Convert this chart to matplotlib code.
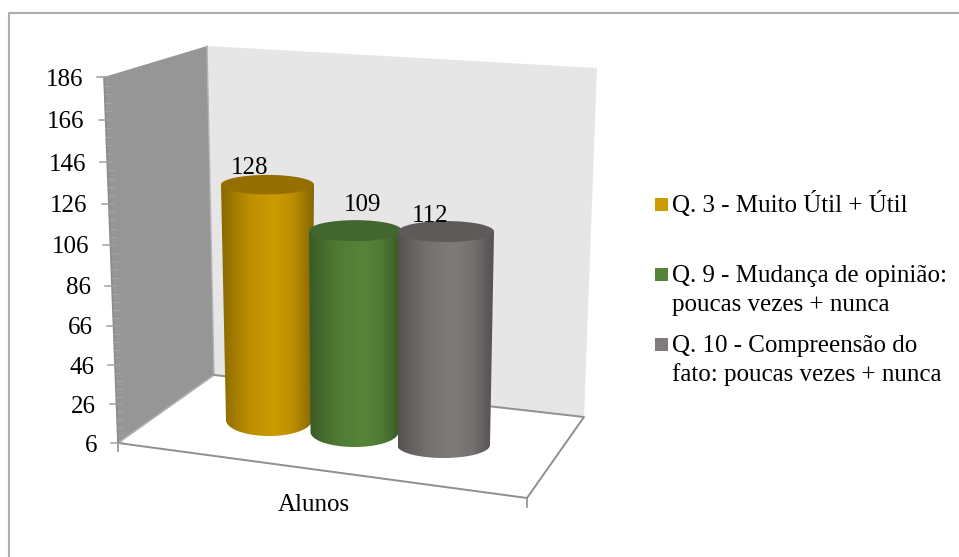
import matplotlib
matplotlib.use('Agg')
from matplotlib import pyplot as plt
from matplotlib.colors import LinearSegmentedColormap, to_rgb
from matplotlib.patches import Ellipse, PathPatch, Polygon, Rectangle
from matplotlib.path import Path
import numpy as np

plt.rcParams['font.family'] = ['Liberation Serif', 'DejaVu Serif']

# chart values
categoria = 'Alunos'
valores = [128, 109, 112]
ticks = [6, 26, 46, 66, 86, 106, 126, 146, 166, 186]
legendas = ['Q. 3 - Muito Útil + Útil',
            'Q. 9 - Mudança de opinião:\npoucas vezes + nunca',
            'Q. 10 - Compreensão do\nfato: poucas vezes + nunca']
cores = ['#CC9B00', '#568539', '#807A7A']
cores_topo = ['#957000', '#426630', '#5F5A5A']

# cylinder geometry in figure pixels
base_x = [269, 354.5, 443.5]
topo_x = [267.5, 355.5, 446]
base_y = [420, 432, 445]
raio_base = [43, 44, 46.5]
raio_topo = [46.5, 46.5, 48]
fundo_h = [16, 15, 13]
topo_h = [19.5, 21, 21]
escala = [354, 361, 371.5]
rotulo_x = [250, 363, 430]
rotulo_y = [174, 211, 222]
legenda_y = [198, 268, 338]

COR_EIXO = '#8F8F8F'
FONTE = 18


def altura(v):
    # perspective foreshortening along the vertical axis
    t = (v - ticks[0]) / (ticks[-1] - ticks[0])
    k = 0.057
    return t * (1 - k) / (1 - k * t)


def eixo_xy(v):
    f = altura(v)
    return 118 - 14 * f, 443 - 366 * f


def cilindro(ax, i, z):
    h = altura(valores[i]) * escala[i]
    y_topo = base_y[i] - h
    esq = topo_x[i] - raio_topo[i]
    dir = topo_x[i] + raio_topo[i]

    ang = np.linspace(np.pi, 0, 60)
    fundo_x = base_x[i] + raio_base[i] * np.cos(ang)
    fundo_y = base_y[i] + fundo_h[i] * np.sin(ang)
    xs = np.r_[esq, fundo_x, dir, esq]
    ys = np.r_[y_topo, fundo_y, y_topo, y_topo]
    corpo = Path(np.c_[xs, ys])

    c = np.array(to_rgb(cores[i]))
    cmap = LinearSegmentedColormap.from_list('c', [
        (0, c * 0.68), (0.3, c * 0.92), (0.58, c), (0.78, c * 0.92), (1, c * 0.66)])
    img = ax.imshow(np.linspace(0, 1, 96).reshape(1, -1), cmap=cmap, aspect='auto',
                    extent=(esq, dir, base_y[i] + fundo_h[i] + 1, y_topo - 1), zorder=z,
                    interpolation='bilinear')
    img.set_clip_path(PathPatch(corpo, transform=ax.transData))

    ax.add_patch(Ellipse((topo_x[i], y_topo), 2 * raio_topo[i], topo_h[i],
                         fc=cores_topo[i], ec='none', zorder=z + 0.1))


fig = plt.figure(figsize=(9.59, 5.57), dpi=100)
ax = fig.add_axes([0, 0, 1, 1])
ax.axis('off')

# outer frame, open on the right and at the bottom
ax.plot([9, 9, 959], [557, 13, 13], color='#AEAEAE', lw=1.5, zorder=1)

# walls and floor
ax.add_patch(Polygon([(207, 46), (597, 68), (584, 417), (214, 375)], fc='#E6E6E6', ec='none', zorder=2))
ax.add_patch(Polygon([(118, 443), (104, 77), (207, 46), (214, 375)], fc='#969696', ec='none', zorder=2))
ax.plot([207, 214], [46, 375], color='#B4B4B4', lw=1, zorder=3)
ax.plot([118, 214], [443, 375], color='#B0B0B0', lw=1.2, zorder=3)
ax.plot([214, 584, 527, 118], [375, 417, 498, 443], color=COR_EIXO, lw=1.4, zorder=3)
ax.plot([104, 118], [77, 443], color='#8A8A8A', lw=1.2, zorder=3)
ax.plot([118, 118], [443, 451], color=COR_EIXO, lw=1.2, zorder=3)
ax.plot([527, 527], [498, 507], color=COR_EIXO, lw=1.2, zorder=3)

# vertical axis ticks
for i, t in enumerate(ticks):
    x, y = eixo_xy(t)
    ax.plot([x - 7, x + 5], [y, y], color='#A0A0A0', lw=1.1, zorder=3)
    ax.text(x - 21, y, str(t), ha='right', va='center_baseline', fontsize=FONTE, color='black', zorder=6)
    if i < len(ticks) - 1:
        for m in range(1, 5):
            xm, ym = eixo_xy(t + (ticks[i + 1] - t) * m / 5)
            ax.plot([xm, xm + 6], [ym, ym], color='#A4A4A4', lw=0.8, zorder=3)

# cylinders, back to front
for i in range(len(valores)):
    cilindro(ax, i, 4 + i)

# value labels
for i, v in enumerate(valores):
    ax.text(rotulo_x[i], rotulo_y[i], str(v), ha='center', va='baseline', fontsize=FONTE, color='black', zorder=8)

ax.text(314, 511, categoria, ha='center', va='baseline', fontsize=FONTE, color='black', zorder=8)

# legend
for i, txt in enumerate(legendas):
    ax.add_patch(Rectangle((655, legenda_y[i]), 13, 13, fc=cores[i], ec='none', zorder=6))
    for j, linha in enumerate(txt.split('\n')):
        ax.text(672.5, legenda_y[i] + 14 + 29 * j, linha, ha='left', va='baseline', fontsize=FONTE, color='black', zorder=8)

ax.set_xlim(0, 959)
ax.set_ylim(557, 0)
fig.savefig('out.png', dpi=100, facecolor='white')
